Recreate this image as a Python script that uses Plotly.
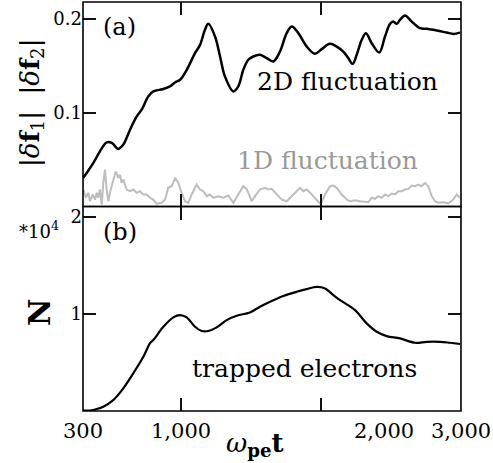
import plotly.graph_objects as go
from plotly.subplots import make_subplots

# ---- data ----
t_2d = [302, 374, 421, 469, 505, 552, 588, 636, 684, 719, 766, 802, 874, 921, 957, 993,
        1041, 1100, 1136, 1171, 1195, 1243, 1279, 1314, 1374, 1409, 1445, 1481, 1516, 1564,
        1612, 1659, 1707, 1755, 1791, 1838, 1898, 1957, 2005, 2064, 2112, 2159, 2195, 2226,
        2255, 2291, 2321, 2362, 2416, 2457, 2493, 2516, 2541, 2564, 2600, 2648, 2707, 2755,
        2826, 2898, 2945, 2993]
f_2d = [0.0305, 0.0465, 0.0588, 0.0684, 0.0678, 0.0614, 0.066, 0.0819, 0.0961, 0.1032,
        0.1173, 0.1227, 0.1252, 0.128, 0.1322, 0.1351, 0.1457, 0.1635, 0.1723, 0.1883,
        0.1947, 0.1812, 0.1599, 0.1386, 0.1227, 0.128, 0.1457, 0.1564, 0.1599, 0.1617,
        0.1582, 0.1546, 0.1652, 0.1848, 0.1918, 0.1848, 0.1705, 0.1628, 0.1678, 0.1734,
        0.1705, 0.1652, 0.1582, 0.1521, 0.1617, 0.1777, 0.1848, 0.1741, 0.1641, 0.1812,
        0.1947, 0.1971, 0.1947, 0.1989, 0.2035, 0.1971, 0.1901, 0.1894, 0.1876, 0.1854,
        0.184, 0.1854]

t_1d = [302, 321, 338, 350, 369, 386, 398, 409, 421, 434, 445, 457, 469, 481, 498, 516,
        534, 552, 564, 576, 588, 612, 636, 659, 684, 707, 731, 755, 779, 802, 826, 862,
        886, 909, 934, 957, 981, 1005, 1029, 1052, 1076, 1112, 1136, 1159, 1184, 1207,
        1231, 1266, 1302, 1338, 1374, 1409, 1445, 1469, 1505, 1529, 1564, 1600, 1624,
        1648, 1684, 1719, 1755, 1791, 1826, 1850, 1874, 1898, 1934, 1969, 1998, 2029,
        2064, 2088, 2112, 2148, 2184, 2207, 2243, 2279, 2314, 2338, 2362, 2386, 2409,
        2434, 2457, 2481, 2505, 2529, 2552, 2576, 2600, 2624, 2648, 2671, 2695, 2719,
        2743, 2766, 2791, 2814, 2838, 2874, 2909, 2945, 2969, 2993]
f_1d = [0.0181, 0.0093, 0.0146, 0.0056, 0.0128, 0.0074, 0.0146, 0.0093, 0.0181, 0.0021,
        0.0252, 0.0394, 0.0181, 0.0056, 0.0181, 0.0287, 0.0376, 0.0305, 0.034, 0.0252,
        0.0287, 0.0181, 0.0163, 0.0181, 0.0146, 0.0163, 0.0128, 0.0128, 0.0093, 0.0074,
        0.0029, 0.0039, 0.0074, 0.0199, 0.0216, 0.0305, 0.0252, 0.0146, 0.0056, 0.0039,
        0.0128, 0.0234, 0.0181, 0.0163, 0.011, 0.0128, 0.0093, 0.011, 0.0093, 0.0117,
        0.0039, 0.0128, 0.0216, 0.0188, 0.0056, 0.011, 0.0181, 0.0199, 0.0181, 0.0188,
        0.0128, 0.0074, 0.0056, 0.011, 0.0163, 0.0199, 0.0163, 0.0181, 0.0128, 0.0074,
        0.0021, 0.0128, 0.0216, 0.0223, 0.0199, 0.0128, 0.0074, 0.0056, 0.0067, 0.0056,
        0.0046, 0.0046, 0.0093, 0.0082, 0.011, 0.0093, 0.0128, 0.011, 0.0138, 0.0128,
        0.0163, 0.0163, 0.0181, 0.0188, 0.0223, 0.0216, 0.0234, 0.0216, 0.0252, 0.0216,
        0.011, 0.0056, 0.0039, 0.0046, 0.0032, 0.0074, 0.0128, 0.0093]

t_trap = [302, 374, 421, 445, 516, 541, 588, 659, 731, 779, 802, 874, 945, 993, 1041,
          1100, 1148, 1195, 1255, 1326, 1398, 1493, 1564, 1636, 1731, 1826, 1898, 1969,
          2029, 2088, 2136, 2243, 2326, 2398, 2469, 2564, 2671, 2755, 2850, 2921, 2993]
n_trap = [0.003, 0.01, 0.03, 0.044, 0.113, 0.15, 0.234, 0.389, 0.56, 0.70, 0.732, 0.869,
          0.966, 0.99, 0.966, 0.869, 0.825, 0.825, 0.863, 0.938, 0.983, 1.017, 1.075,
          1.127, 1.186, 1.23, 1.258, 1.281, 1.265, 1.196, 1.144, 1.041, 0.904, 0.818,
          0.773, 0.749, 0.704, 0.714, 0.714, 0.704, 0.691]

x_ticks = [300, 1000, 2000, 3000]
x_ticklabels = ["300", "1,000", "2,000", "3,000"]

FONT = "DejaVu Serif"

fig = make_subplots(rows=2, cols=1, shared_xaxes=True, vertical_spacing=0)

fig.add_trace(go.Scatter(x=t_1d, y=f_1d, mode="lines",
                         line=dict(color="#bdbdbd", width=2)), row=1, col=1)
fig.add_trace(go.Scatter(x=t_2d, y=f_2d, mode="lines", line_shape="spline",
                         line=dict(color="black", width=2.5)), row=1, col=1)
fig.add_trace(go.Scatter(x=t_trap, y=n_trap, mode="lines", line_shape="spline",
                         line=dict(color="black", width=2.2)), row=2, col=1)

ax_common = dict(showline=False, mirror="ticks",
                 ticks="inside", ticklen=13, tickwidth=2, tickcolor="#111111",
                 showgrid=False, zeroline=False, layer="above traces")

fig.update_xaxes(range=[300, 3000], tickvals=[1000, 2000], showticklabels=False, **ax_common)
fig.update_yaxes(**ax_common, tickfont=dict(family=FONT, size=18, color="black"))
fig.update_yaxes(range=[0, 0.218], tickvals=[0.1, 0.2], ticktext=["0.1", "0.2"],
                 domain=[0.5, 1.0], row=1, col=1)
fig.update_yaxes(range=[0, 2.11], tickvals=[1, 2], ticktext=["1", "2"],
                 domain=[0.0, 0.5], row=2, col=1)

# panel frames
for xr, yr in [("x domain", "y domain"), ("x2 domain", "y2 domain")]:
    fig.add_shape(type="rect", xref=xr, yref=yr, x0=0, x1=1, y0=0, y1=1,
                  line=dict(color="black", width=1.6), fillcolor="rgba(0,0,0,0)",
                  layer="above")

ann = []
# x tick labels
shifts = [0, 0, 63, 0]
for xv, lab, sh in zip(x_ticks, x_ticklabels, shifts):
    ann.append(dict(x=xv, y=0, xref="x2", yref="paper", text=lab, showarrow=False,
                    xanchor="center", yanchor="top", yshift=-6, xshift=sh,
                    font=dict(family=FONT, size=21, color="black")))
# x title
ann.append(dict(x=(255 - 83) / 378, y=0, xref="paper", yref="paper",
                text="<i>ω</i><sub><b>pe</b></sub><b>t</b>", showarrow=False,
                xanchor="center", yanchor="top", yshift=-15,
                font=dict(family=FONT, size=26, color="black")))
# y titles
ann.append(dict(x=(32 - 83) / 378, y=(411 - 103) / 409, xref="paper", yref="paper",
                text="|<i>δ</i><b>f</b><sub>1</sub>|  |<i>δ</i><b>f</b><sub>2</sub>|",
                textangle=-90, showarrow=False, xanchor="center", yanchor="middle",
                font=dict(family=FONT, size=26, color="black")))
ann.append(dict(x=(39 - 83) / 378, y=(411 - 313) / 409, xref="paper", yref="paper",
                text="<b>N</b>", textangle=-90, showarrow=False,
                xanchor="center", yanchor="middle",
                font=dict(family=FONT, size=30, color="black")))
ann.append(dict(x=(39 - 83) / 378, y=(411 - 230) / 409, xref="paper", yref="paper",
                text="*10<sup>4</sup>", showarrow=False,
                xanchor="center", yanchor="middle",
                font=dict(family=FONT, size=18, color="black")))
# panel texts
ann.append(dict(x=564, y=0.191, xref="x", yref="y", text="(a)", showarrow=False,
                font=dict(family=FONT, size=24, color="black")))
ann.append(dict(x=564, y=1.845, xref="x2", yref="y2", text="(b)", showarrow=False,
                font=dict(family=FONT, size=24, color="black")))
ann.append(dict(x=2186, y=0.133, xref="x", yref="y", text="2D fluctuation", showarrow=False,
                font=dict(family=FONT, size=25, color="black")))
ann.append(dict(x=2043, y=0.049, xref="x", yref="y", text="1D fluctuation", showarrow=False,
                font=dict(family=FONT, size=25, color="#999999")))
ann.append(dict(x=1879, y=0.443, xref="x2", yref="y2", text="trapped electrons",
                showarrow=False, font=dict(family=FONT, size=25, color="black")))

fig.update_layout(width=493, height=463, margin=dict(l=83, r=32, t=2, b=52),
                  plot_bgcolor="white", paper_bgcolor="white", showlegend=False,
                  annotations=ann, font=dict(family=FONT))

fig.write_html("out.html")
